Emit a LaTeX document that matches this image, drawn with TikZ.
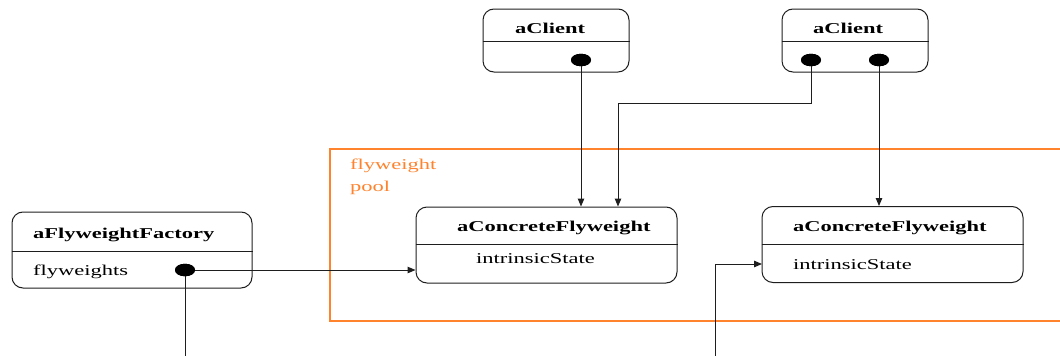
\documentclass[tikz,border=0pt]{standalone}
\usepackage{fontspec}
\setmainfont{Liberation Serif}[FakeStretch=1.5]
\usetikzlibrary{arrows.meta,shapes.geometric}
\definecolor{ink}{RGB}{30,30,30}
\definecolor{poolorange}{RGB}{255,130,45}
\newcommand{\diagfont}{\fontsize{15}{20}\selectfont}
\tikzset{
  objbox/.style={draw=ink, line width=1pt, rounded corners=11pt, inner sep=0pt},
  divider/.style={draw=ink, line width=1pt},
  refdot/.style={ellipse, fill=black, inner sep=0pt, minimum width=20pt, minimum height=12.5pt},
  link/.style={draw=ink, line width=1pt},
  arr/.style={link, -{Triangle[length=8pt,width=6.5pt]}},
  lbl/.style={anchor=base west, inner sep=0pt, text=black, font=\diagfont},
  title/.style={lbl, font=\diagfont\bfseries},
  poollbl/.style={lbl, text=poolorange}
}
\begin{document}
\begin{tikzpicture}[x=1pt, y=-1pt]
\useasboundingbox (0,0) rectangle (1060,356);

% flyweight pool frame (runs off the right edge)
\draw[poolorange, line width=1.2pt] (1070,149) -- (330,149) -- (330,321) -- (1070,321);
\node[poollbl] (poolA) at (350,169) {flyweight};
\node[poollbl] (poolB) at (350,191) {pool};

% object boxes
\node[objbox, minimum width=240pt, minimum height=76pt] (factory) at (132,250) {};
\node[objbox, minimum width=146pt, minimum height=63pt] (client1) at (556,40.5) {};
\node[objbox, minimum width=146pt, minimum height=63pt] (client2) at (855,40.5) {};
\node[objbox, minimum width=261pt, minimum height=76pt] (cf1) at (546.5,245) {};
\node[objbox, minimum width=261pt, minimum height=76pt] (cf2) at (892.5,244.5) {};

% compartment dividers
\draw[divider] (factory.west |- 0,251) -- (factory.east |- 0,251);
\draw[divider] (client1.west |- 0,41) -- (client1.east |- 0,41);
\draw[divider] (client2.west |- 0,41) -- (client2.east |- 0,41);
\draw[divider] (cf1.west |- 0,244) -- (cf1.east |- 0,244);
\draw[divider] (cf2.west |- 0,244) -- (cf2.east |- 0,244);

% names and attributes
\node[title] (tFactory) at (33,238) {aFlyweightFactory};
\node[lbl]   (aFactory) at (33,275) {flyweights};
\node[title] (tClient1) at (515,33) {aClient};
\node[title] (tClient2) at (813,33) {aClient};
\node[title] (tCF1) at (457,231) {aConcreteFlyweight};
\node[lbl]   (aCF1) at (476,263) {intrinsicState};
\node[title] (tCF2) at (793,231) {aConcreteFlyweight};
\node[lbl]   (aCF2) at (793,269) {intrinsicState};

% reference dots
\node[refdot] (fdot) at (185,270) {};
\node[refdot] (c1dot) at (581,60) {};
\node[refdot] (c2dotA) at (811,60) {};
\node[refdot] (c2dotB) at (879,60) {};

% routing points
\coordinate (fdown) at (185,360);
\coordinate (bend) at (618,103);
\coordinate (lowstart) at (715,360);
\coordinate (cf2in) at (762,264);

% connectors
\draw[link] (fdot.center) -- (fdown);
\draw[arr] (fdot.center) -- (fdot.center -| cf1.west);
\draw[arr] (c1dot.center) -- (c1dot.center |- cf1.north);
\draw[arr] (c2dotA.center) |- (bend) -- (bend |- cf1.north);
\draw[arr] (c2dotB.center) -- (c2dotB.center |- cf2.north);
\draw[arr] (lowstart) |- (cf2in);

% dots drawn on top of line ends
\fill[black] (fdot) ellipse (10pt and 6.25pt);
\fill[black] (c1dot) ellipse (10pt and 6.25pt);
\fill[black] (c2dotA) ellipse (10pt and 6.25pt);
\fill[black] (c2dotB) ellipse (10pt and 6.25pt);
\end{tikzpicture}
\end{document}
